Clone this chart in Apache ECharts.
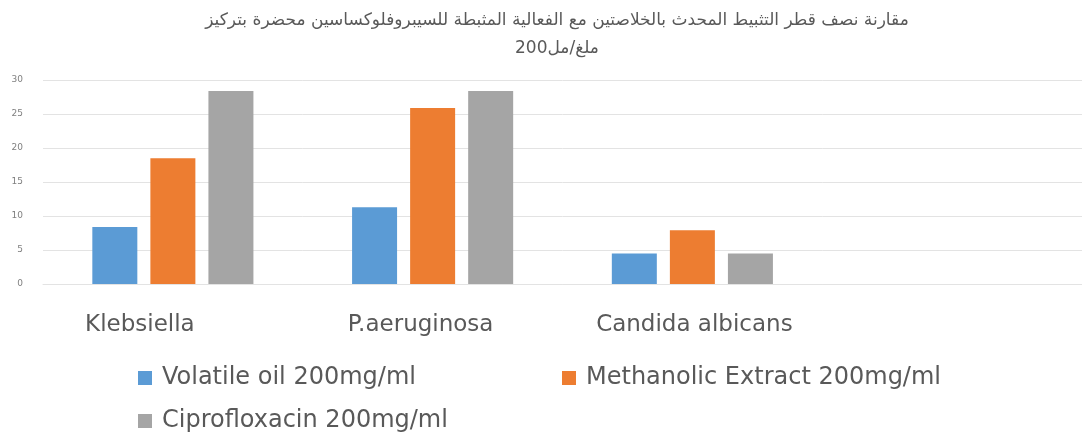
<!DOCTYPE html>
<html>
<head>
<meta charset="utf-8">
<script src="https://cdn.jsdelivr.net/npm/echarts@6/dist/echarts.min.js"></script>
<style>
html,body{margin:0;padding:0;background:#fff;}
#chart{width:1082px;height:445px;}
</style>
</head>
<body>
<div id="chart"></div>
<script>
const titleText = 'مقارنة نصف قطر التثبيط المحدث بالخلاصتين مع الفعالية المثبطة للسيبروفلوكساسين محضرة بتركيز\n200ملغ/مل';
const categories = ['Klebsiella', 'P.aeruginosa', 'Candida albicans', ''];
const seriesNames = ['Volatile oil 200mg/ml', 'Methanolic Extract 200mg/ml', 'Ciprofloxacin 200mg/ml'];
const volatileOil = [8.4, 11.3, 4.5, null];
const methanolicExtract = [18.5, 25.9, 7.9, null];
const ciprofloxacin = [28.4, 28.4, 4.5, null];
const yTicks = {min: 0, max: 30, interval: 5};

const colors = ['#5b9bd5', '#ed7d31', '#a5a5a5'];
const textColor = '#595959';
const FONT = 'DejaVu Sans';

const chart = echarts.init(document.getElementById('chart'), null, {renderer: 'canvas'});

const labelRich = {
  k: {fontFamily: FONT, fontSize: 23, color: textColor, padding: [0, 66, 0, 0]},
  p: {fontFamily: FONT, fontSize: 23, color: textColor, padding: [0, 24, 0, 0]},
  c: {fontFamily: FONT, fontSize: 23, color: textColor, padding: [0, 0, 0, 4]}
};
const labelKeys = ['k', 'p', 'c', 'c'];

function legendFor(name, left, top) {
  return {
    data: [name],
    left: left,
    top: top,
    padding: 0,
    icon: 'rect',
    itemWidth: 14,
    itemHeight: 14,
    selectedMode: false,
    textStyle: {fontFamily: FONT, fontSize: 24, color: textColor, padding: [0, 0, 0, 5], lineHeight: 28}
  };
}

const option = {
  animation: false,
  backgroundColor: '#ffffff',
  color: colors,
  title: {
    text: titleText,
    left: 552,
    top: 2,
    textAlign: 'center',
    textStyle: {fontFamily: FONT, fontSize: 17, fontWeight: 'normal', color: textColor, lineHeight: 28}
  },
  legend: [
    legendFor(seriesNames[0], 138, 364),
    legendFor(seriesNames[1], 562, 364),
    legendFor(seriesNames[2], 138, 407)
  ],
  grid: {left: 43, right: 0, top: 80, bottom: 161, containLabel: false},
  xAxis: {
    type: 'category',
    data: categories,
    axisLine: {show: true, lineStyle: {color: '#e3e3e3', width: 1}},
    axisTick: {show: false},
    axisLabel: {
      margin: 30,
      interval: 0,
      formatter: function (v, i) { return v ? '{' + labelKeys[i] + '|' + v + '}' : ''; },
      rich: labelRich
    }
  },
  yAxis: {
    type: 'value',
    min: yTicks.min,
    max: yTicks.max,
    interval: yTicks.interval,
    axisLine: {show: false},
    axisTick: {show: false},
    splitLine: {lineStyle: {color: '#e3e3e3', width: 1}},
    axisLabel: {fontFamily: FONT, fontSize: 9, color: '#7f7f7f', margin: 20}
  },
  series: [
    {name: seriesNames[0], type: 'bar', data: volatileOil, barWidth: 45, barGap: '29%'},
    {name: seriesNames[1], type: 'bar', data: methanolicExtract, barWidth: 45, barGap: '29%'},
    {name: seriesNames[2], type: 'bar', data: ciprofloxacin, barWidth: 45, barGap: '29%'}
  ]
};
chart.setOption(option);
</script>
</body>
</html>
